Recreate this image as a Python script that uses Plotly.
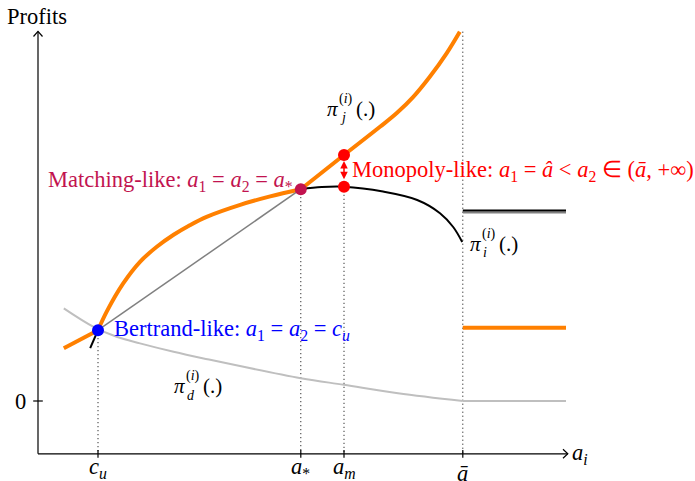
import plotly.graph_objects as go

# ---- key levels of a_i (horizontal axis) ----
c_u, a_star, a_m, a_bar, a_end = 1.0, 4.38, 5.1, 7.08, 8.8
x_ticks = [c_u, a_star, a_m, a_bar]
x_tick_labels = ["<i>c</i><sub><i>u</i></sub>", "<i>a</i><sub>*</sub>",
                 "<i>a</i><sub><i>m</i></sub>", "<i>ā</i>"]
y_ticks = [0.0]
y_tick_labels = ["0"]
y_axis_bottom, y_axis_top = -0.88, 6.16

# ---- pi_j : rival's profit ----
pij_low_x = [0.43, 1.0]
pij_low_y = [0.88, 1.18]
pij_mid_x = [1.0, 1.145, 1.42, 1.7, 1.98, 2.26, 2.53, 2.81, 3.37, 3.87, 4.38]
pij_mid_y = [1.18, 1.49, 1.96, 2.32, 2.57, 2.77, 2.93, 3.07, 3.27, 3.41, 3.53]
pij_high_x = [4.38, 5.1, 5.7, 5.98, 6.255, 6.53, 6.81, 7.03]
pij_high_y = [3.53, 4.1, 4.57, 4.8, 5.07, 5.405, 5.795, 6.155]
pij_flat_y = 1.22

# ---- pi_i : own profit ----
pii_stub_x = [0.87, 1.0]
pii_stub_y = [0.88, 1.18]
pii_match_x = [1.0, 4.38]
pii_match_y = [1.18, 3.53]
pii_x = [4.38, 4.73, 5.1, 5.75, 6.32, 6.7, 6.92, 7.07]
pii_y = [3.53, 3.565, 3.57, 3.49, 3.35, 3.13, 2.9, 2.65]
pii_flat_y = 3.175
pii_flat_shadow_y = 3.14

# ---- pi_d : deviation profit ----
pid_x = [0.43, 0.92, 1.31, 1.7, 2.26, 2.76, 4.38, 5.1, 6.0, 7.08]
pid_y = [1.545, 1.24, 1.07, 0.96, 0.82, 0.71, 0.38, 0.27, 0.13, 0.0]
pid_flat_y = 0.0

# ---- equilibria ----
bertrand_pt = (c_u, 1.18)
matching_pt = (a_star, 3.53)
mono_j_pt = (a_m, 4.1)
mono_i_pt = (a_m, 3.57)

ORANGE = "#ff8000"
GRAY = "#808080"
LIGHT = "#bfbfbf"
CRIMSON = "#c2134f"
FONT = "Liberation Serif"
SIZE = 22.5

fig = go.Figure()


def line(x, y, color, width, shape="linear", dash=None):
    fig.add_trace(go.Scatter(x=x, y=y, mode="lines", hoverinfo="skip",
                             line=dict(color=color, width=width, shape=shape,
                                       dash=dash)))


# dotted guides from each level down to the horizontal axis
guide_tops = [bertrand_pt[1], matching_pt[1], mono_i_pt[1], pij_high_y[-1]]
for xv, top in zip(x_ticks, guide_tops):
    line([xv, xv], [top, y_axis_bottom], "black", 1, dash="1px,3px")

# pi_d
line(pid_x, pid_y, LIGHT, 2, "spline")
line([a_bar, a_end], [pid_flat_y, pid_flat_y], LIGHT, 2)

# pi_i
line(pii_stub_x, pii_stub_y, "black", 2)
line(pii_x, pii_y, "black", 2, "spline")
line([a_bar, a_end], [pii_flat_shadow_y, pii_flat_shadow_y], GRAY, 2)
line([a_bar, a_end], [pii_flat_y, pii_flat_y], "black", 2)

# pi_j
line(pij_low_x, pij_low_y, ORANGE, 4)
line(pij_mid_x, pij_mid_y, ORANGE, 4, "spline")
line(pij_high_x, pij_high_y, ORANGE, 4, "spline")
line([a_bar, a_end], [pij_flat_y, pij_flat_y], ORANGE, 4)

# common profit along the matching diagonal
line(pii_match_x, pii_match_y, GRAY, 1.5)


def dot(pt, color):
    fig.add_trace(go.Scatter(x=[pt[0]], y=[pt[1]], mode="markers", hoverinfo="skip",
                             marker=dict(color=color, size=12, line=dict(width=0))))


dot(bertrand_pt, "blue")
dot(matching_pt, CRIMSON)
dot(mono_j_pt, "red")
dot(mono_i_pt, "red")

# axes with open arrow heads
shapes = [
    dict(type="line", x0=0, x1=a_end + 0.03, y0=y_axis_bottom, y1=y_axis_bottom,
         line=dict(color="black", width=1.2)),
    dict(type="line", x0=0, x1=0, y0=y_axis_bottom, y1=y_axis_top,
         line=dict(color="black", width=1.2)),
    dict(type="path",
         path=f"M {a_end - 0.05} {y_axis_bottom + 0.075} L {a_end + 0.03} {y_axis_bottom} "
              f"L {a_end - 0.05} {y_axis_bottom - 0.075}",
         line=dict(color="black", width=1.2)),
    dict(type="path",
         path=f"M -0.075 {y_axis_top - 0.085} L 0 {y_axis_top} L 0.075 {y_axis_top - 0.085}",
         line=dict(color="black", width=1.2)),
]
for xv in x_ticks:
    shapes.append(dict(type="line", x0=xv, x1=xv, y0=y_axis_bottom + 0.065,
                       y1=y_axis_bottom - 0.065, line=dict(color="black", width=1.2)))
for yv in y_ticks:
    shapes.append(dict(type="line", x0=-0.08, x1=0.08, y0=yv, y1=yv,
                       line=dict(color="black", width=1.2)))

annotations = []


def text(x, y, s, size=SIZE, color="black", xanchor="center", yanchor="middle",
         xshift=0, yshift=0):
    annotations.append(dict(x=x, y=y, text=s, showarrow=False, xanchor=xanchor,
                            yanchor=yanchor, xshift=xshift, yshift=yshift,
                            font=dict(family=FONT, size=size, color=color)))


for xv, lab in zip(x_ticks, x_tick_labels):
    text(xv, y_axis_bottom, lab, yanchor="top", yshift=2 if lab != "<i>ā</i>" else -5)
for yv, lab in zip(y_ticks, y_tick_labels):
    text(0, yv, lab, xanchor="right", xshift=-10)
text(0, y_axis_top, "Profits", yshift=15, xshift=-1)
text(a_end, y_axis_bottom, "<i>a</i><sub><i>i</i></sub>", xanchor="left", xshift=4)


def pi_label(x, y, sub):
    text(x, y, "<i>π</i>", xanchor="left", size=21)
    text(x, y, "(<i>i</i>)", size=14, xanchor="left", xshift=12, yshift=10)
    text(x, y, f"<i>{sub}</i>", size=14, xanchor="left", xshift=13, yshift=-9)
    text(x, y, "(.)", xanchor="left", xshift=29, size=21)


pi_label(4.78, 4.87, "j")
pi_label(7.17, 2.62, "i")
pi_label(2.23, 0.25, "d")

text(matching_pt[0], matching_pt[1],
     "Matching-like: <i>a</i><sub>1</sub> = <i>a</i><sub>2</sub> = <i>a</i><sub>*</sub>",
     color=CRIMSON, xanchor="right", xshift=-6, yshift=8)
text(mono_j_pt[0], (mono_j_pt[1] + mono_i_pt[1]) / 2,
     "Monopoly-like: <i>a</i><sub>1</sub> = <i>â</i> &lt; <i>a</i><sub>2</sub> ∈ (<i>ā</i>, +∞)",
     color="red", xanchor="left", xshift=6)
text(bertrand_pt[0], bertrand_pt[1],
     "Bertrand-like: <i>a</i><sub>1</sub> = <i>a</i><sub>2</sub> = <i>c</i><sub><i>u</i></sub>",
     color="blue", xanchor="left", xshift=14)

# gap between the two monopoly-like payoffs
annotations.append(dict(x=mono_j_pt[0], y=mono_j_pt[1], ax=mono_i_pt[0], ay=mono_i_pt[1],
                        axref="x", ayref="y", xref="x", yref="y", text="",
                        showarrow=True, arrowside="end+start", arrowhead=2, arrowsize=1,
                        arrowwidth=1.5, arrowcolor="red", standoff=6, startstandoff=6))

fig.update_layout(
    width=695, height=481,
    margin=dict(l=0, r=0, t=0, b=0),
    paper_bgcolor="white", plot_bgcolor="white",
    showlegend=False,
    xaxis=dict(visible=False, range=[-38 / 60, (695 - 38) / 60], fixedrange=True),
    yaxis=dict(visible=False, range=[(401 - 481) / 60, 401 / 60], fixedrange=True),
    shapes=shapes, annotations=annotations,
)

fig.write_html("out.html")
